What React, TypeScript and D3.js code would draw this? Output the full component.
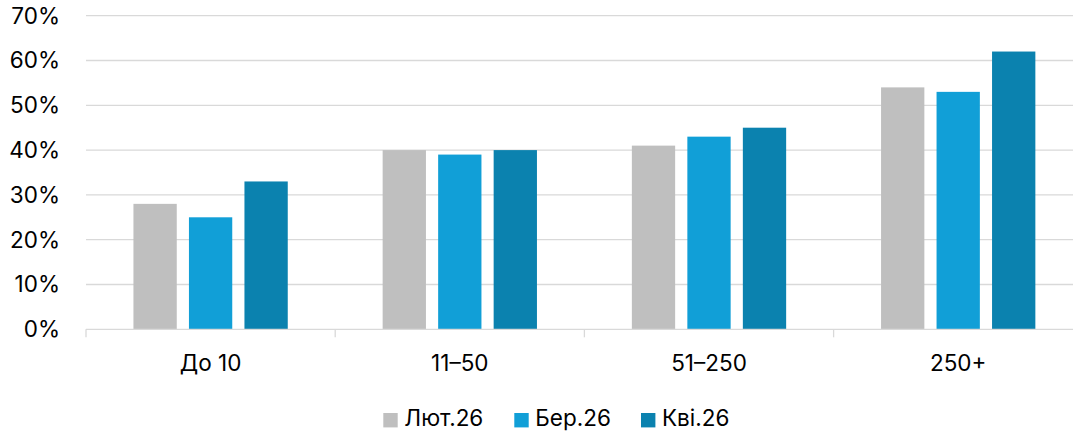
import React from "react";
import * as d3 from "d3";

const categories = ["До 10", "11–50", "51–250", "250+"];
const seriesNames = ["Лют.26", "Бер.26", "Кві.26"];
const seriesColors = ["#BFBFBF", "#119FD7", "#0B82AF"];
const valuesFeb = [28, 40, 41, 54];
const valuesMar = [25, 39, 43, 53];
const valuesApr = [33, 40, 45, 62];
const yTicks = [0, 10, 20, 30, 40, 50, 60, 70];

const series = [valuesFeb, valuesMar, valuesApr];

const W = 1073;
const H = 433;
const M = { left: 86, top: 15.7, bottom: 329.3 };
const plotRight = 86 + 4 * 249.2;
const FONT = "Inter, 'Liberation Sans', Arial, sans-serif";
const FS = 22.5;
const LS = 0;

export default function App() {
  const x = d3.scaleBand<string>().domain(categories).range([M.left, plotRight]).paddingInner(0).paddingOuter(0);
  const y = d3.scaleLinear().domain([0, 70]).range([M.bottom, M.top]);
  const barW = 43.3;
  const step = 55.5;

  return (
    <svg width={W} height={H} style={{ position: "absolute", left: 0, top: 0 }} fontFamily={FONT}>
      <rect width={W} height={H} fill="#fff" />
      {yTicks.map((t) => (
        <g key={t}>
          {t > 0 && (
            <line x1={M.left} x2={plotRight} y1={y(t)} y2={y(t)} stroke="#D9D9D9" strokeWidth={1.3} />
          )}
          <text x={60} y={y(t) + 7.8} textAnchor="end" fontSize={FS} letterSpacing={LS} fill="#000">
            {t}%
          </text>
        </g>
      ))}
      {categories.map((c, ci) => {
        const cx = (x(c) as number) + x.bandwidth() / 2;
        return (
          <g key={c}>
            {series.map((s, si) => (
              <rect
                key={si}
                x={cx + (si - 1) * step - barW / 2}
                y={y(s[ci])}
                width={barW}
                height={y(0) - y(s[ci])}
                fill={seriesColors[si]}
              />
            ))}
            <text x={cx} y={371} textAnchor="middle" fontSize={FS} letterSpacing={LS} fill="#000">
              {c}
            </text>
          </g>
        );
      })}
      <line x1={M.left} x2={plotRight} y1={y(0)} y2={y(0)} stroke="#D9D9D9" strokeWidth={1.3} />
      {[...categories.map((c) => x(c) as number), plotRight].map((tx, i) => (
        <line key={i} x1={tx} x2={tx} y1={y(0)} y2={y(0) + 8} stroke="#D9D9D9" strokeWidth={1.3} />
      ))}
      {seriesNames.map((n, i) => {
        const lx = [383.3, 514.3, 641][i];
        return (
          <g key={n}>
            <rect x={lx} y={413} width={14.4} height={14.4} fill={seriesColors[i]} />
            <text x={lx + 21} y={426.3} fontSize={FS} letterSpacing={LS} fill="#000">
              {n}
            </text>
          </g>
        );
      })}
    </svg>
  );
}
